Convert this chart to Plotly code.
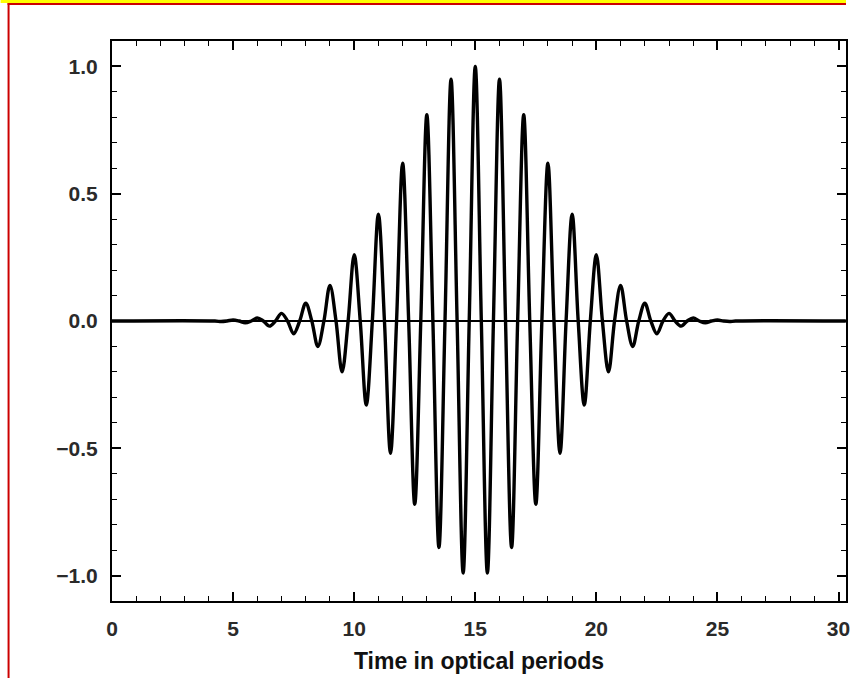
import plotly.graph_objects as go

# ---- data ----
# positive extrema (at whole optical periods) and negative extrema (at half periods)
peak_t = [5, 6, 7, 8, 9, 10, 11, 12, 13, 14, 15, 16, 17, 18, 19, 20, 21, 22, 23, 24, 25]
peak_v = [0.004, 0.012, 0.03, 0.07, 0.14, 0.26, 0.42, 0.62, 0.81, 0.95, 1.00,
          0.95, 0.81, 0.62, 0.42, 0.26, 0.14, 0.07, 0.03, 0.012, 0.004]
trough_t = [4.5, 5.5, 6.5, 7.5, 8.5, 9.5, 10.5, 11.5, 12.5, 13.5, 14.5,
            15.5, 16.5, 17.5, 18.5, 19.5, 20.5, 21.5, 22.5, 23.5, 24.5, 25.5]
trough_v = [-0.002, -0.007, -0.02, -0.05, -0.10, -0.20, -0.33, -0.52, -0.72, -0.89, -0.99,
            -0.99, -0.89, -0.72, -0.52, -0.33, -0.20, -0.10, -0.05, -0.02, -0.007, -0.002]
# zero crossings sit a quarter period from each extremum
zero_t = [4.25 + 0.5 * k for k in range(44)]
zero_v = [0.0] * len(zero_t)
start_t, start_v = [0.0], [0.0]
end_t, end_v = [30.3], [0.0]

x_ticks = [0, 5, 10, 15, 20, 25, 30]
y_ticks = [-1.0, -0.5, 0.0, 0.5, 1.0]
x_title = "Time in optical periods"

pts = sorted(zip(start_t + trough_t + peak_t + zero_t + end_t,
                 start_v + trough_v + peak_v + zero_v + end_v))
xs = [p[0] for p in pts]
ys = [p[1] for p in pts]

W, H = 850, 678
L, R, T, B = 112, 0, 41, 77
PW, PH = W - L - R, H - T - B


def px(x):
    return (x - L) / PW


def py(y):
    return (T + PH - y) / PH


fig = go.Figure()
fig.add_trace(go.Scatter(x=xs, y=ys, mode="lines",
                         line=dict(color="black", width=3.4, shape="spline", smoothing=1.0),
                         hoverinfo="skip", showlegend=False))

tickfont = dict(family="Liberation Sans, Arial, sans-serif", size=21, color="#2a2a2a", weight="bold")

fig.update_layout(
    width=W, height=H,
    margin=dict(l=L, r=R, t=T, b=B),
    paper_bgcolor="white", plot_bgcolor="white",
    showlegend=False,
    xaxis=dict(range=[0, PW / 24.35], tickvals=x_ticks, ticktext=[str(v) for v in x_ticks],
               ticks="inside", ticklen=9, tickwidth=1.5, tickcolor="black",
               minor=dict(ticks="inside", dtick=1, ticklen=5, tickwidth=1.2, tickcolor="black"),
               showline=True, linecolor="black", linewidth=2, mirror="allticks",
               showgrid=False, zeroline=False, tickfont=tickfont, ticklabelstandoff=8,
               ticklabeloverflow="allow",
               title=dict(text=x_title, standoff=14,
                          font=dict(family="Liberation Sans, Arial, sans-serif", size=23,
                                    color="#111111", weight="bold"))),
    yaxis=dict(range=[-1.1, 1.1], tickvals=y_ticks, tickformat=".1f",
               ticks="inside", ticklen=9, tickwidth=1.5, tickcolor="black",
               minor=dict(ticks="inside", dtick=0.1, ticklen=5, tickwidth=1.2, tickcolor="black"),
               showline=True, linecolor="black", linewidth=2, mirror="allticks",
               showgrid=False, zeroline=True, zerolinecolor="black", zerolinewidth=2.2,
               tickfont=tickfont, ticklabelstandoff=8),
    shapes=[
        dict(type="rect", xref="paper", yref="paper", x0=px(0), x1=px(W), y0=py(3), y1=py(0),
             fillcolor="#ffff00", line=dict(width=0), layer="above"),
        dict(type="rect", xref="paper", yref="paper", x0=px(7), x1=px(W), y0=py(5), y1=py(3),
             fillcolor="#cc0000", line=dict(width=0), layer="above"),
        dict(type="rect", xref="paper", yref="paper", x0=px(7), x1=px(9), y0=py(H), y1=py(3),
             fillcolor="#cc0000", line=dict(width=0), layer="above"),
    ],
)

fig.write_html("out.html")
